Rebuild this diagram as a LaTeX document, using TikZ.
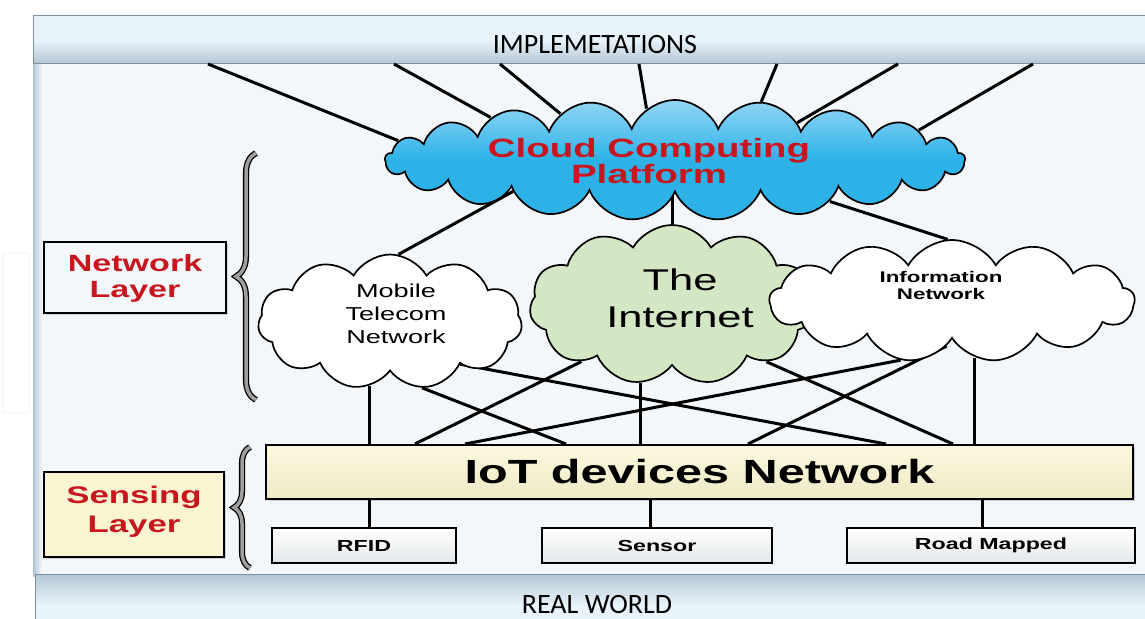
\documentclass[tikz,border=0pt]{standalone}
\usepackage{fontspec}
\setmainfont{Liberation Sans}
\newfontfamily\wf[FakeStretch=1.45]{Liberation Sans}
\newfontfamily\cf{Carlito}
\usetikzlibrary{shapes.symbols,decorations.pathreplacing,shadows}
\definecolor{redtxt}{HTML}{C8161E}
\definecolor{panel}{HTML}{F3F7FA}
\definecolor{barlight}{HTML}{E8F3FA}
\definecolor{bardark}{HTML}{B4C7D5}
\definecolor{edgegray}{HTML}{7D8E9C}
\definecolor{cloudtop}{HTML}{92D6F4}
\definecolor{cloudbot}{HTML}{2DB2E8}
\definecolor{netgreen}{HTML}{D4E7C4}
\definecolor{sensyel}{HTML}{F9F5D2}
\definecolor{iottop}{HTML}{FBF8DE}
\definecolor{iotbot}{HTML}{EEEAC6}
\definecolor{boxtop}{HTML}{FFFFFF}
\definecolor{boxbot}{HTML}{E3E7EA}
\begin{document}
\begin{tikzpicture}[x=1pt,y=-1pt,
  conn/.style={line width=3pt, black},
  cloudbase/.style={cloud, cloud ignores aspect, draw=black, line width=1.7pt, inner sep=0pt},
  ccstyle/.style={cloudbase, cloud puffs=21, cloud puff arc=135, minimum width=580, minimum height=120},
  bartext/.style={font=\cf\fontsize{28}{30}\selectfont, inner sep=0pt, anchor=base},
  layerbox/.style={draw=black, line width=2.2pt, inner sep=0pt},
  layertext/.style={text=redtxt, align=center, inner sep=0pt},
  smallbox/.style={draw=black, line width=2pt, top color=boxtop, bottom color=boxbot, inner sep=0pt,
     font=\wf\bfseries\fontsize{16}{18}\selectfont},
  bracestyle/.style={decorate, decoration={brace, amplitude=20pt}, line width=1.3pt, double=gray!75, double distance=3.5pt}
]
\useasboundingbox (0,0) rectangle (1145,618);
\fill[white] (0,0) rectangle (1145,618);

% faint frame at the left margin
\draw[gray!12, line width=0.8pt, rounded corners=3] (3,253) rectangle (30,413);

% main panel
\fill[panel] (35,63) rectangle (1145,576);
\fill[left color=bardark, right color=panel] (33,63) rectangle (42,576);
\draw[edgegray!60, line width=1pt] (33,63) -- (33,576);

% top and bottom bars
\node[draw=edgegray, line width=1pt, top color=barlight, bottom color=bardark, middle color=barlight,
      minimum width=1116, minimum height=48, anchor=north west, inner sep=0pt] (impl) at (33,15) {};
\node[bartext] (impltext) at (595,53) {IMPLEMETATIONS};
\node[draw=edgegray, line width=1pt, top color=bardark, bottom color=barlight, middle color=barlight,
      minimum width=1114, minimum height=60, anchor=north west, inner sep=0pt] (real) at (35,574) {};
\node[bartext] (realtext) at (597,613) {REAL WORLD};

% cloud positions
\path (675,160) coordinate (ccpos) (390,322) coordinate (mobpos)
      (672,305) coordinate (intpos) (952,301) coordinate (infopos);

% invisible cloud nodes for anchors
\node[ccstyle, draw=none] (cc) at (ccpos) {};
\node[cloudbase, draw=none, cloud puffs=11, cloud puff arc=120, minimum width=264, minimum height=135] (mob) at (mobpos) {};
\node[cloudbase, draw=none, cloud puffs=11, cloud puff arc=120, minimum width=285, minimum height=160] (int) at (intpos) {};
\node[cloudbase, draw=none, cloud puffs=13, cloud puff arc=120, minimum width=365, minimum height=122] (info) at (infopos) {};

% IoT bar and boxes
\node[draw=black, line width=2pt, top color=iottop, bottom color=iotbot, minimum width=867, minimum height=54,
      inner sep=0pt, drop shadow={opacity=0.35, shadow xshift=2pt, shadow yshift=-2pt},
      font=\wf\bfseries\fontsize{33.5}{36}\selectfont] (iot) at (699.5,472) {IoT devices Network};
\node[smallbox, minimum width=184, minimum height=35] (rfid) at (364,545.5) {RFID};
\node[smallbox, minimum width=230, minimum height=35] (sensor) at (657,545.5) {Sensor};
\node[smallbox, minimum width=288, minimum height=35] (road) at (991,545.5) {Road Mapped};

% connectors from implementations bar to cloud platform
\draw[conn] (208,0 |- impl.south) -- (cc.176);
\draw[conn] (394,0 |- impl.south) -- (cc.167.5);
\draw[conn] (500,0 |- impl.south) -- (cc.158);
\draw[conn] (639,0 |- impl.south) -- (cc.119);
\draw[conn] (777,0 |- impl.south) -- (cc.34.5);
\draw[conn] (898,0 |- impl.south) -- (cc.17);
\draw[conn] (1033,0 |- impl.south) -- (cc.7.5);

% cloud platform to networks
\draw[conn] (cc.191) -- (mob.83);
\draw[conn] (int.north) -- (int.north |- cc.south);
\draw[conn] (cc.345) -- (info.94);

% networks to IoT bar
\draw[conn] (mob.252) -- (mob.252 |- iot.north);
\draw[conn] (mob.329) -- (886,0 |- iot.north);
\draw[conn] (mob.296) -- (566,0 |- iot.north);
\draw[conn] (int.248) -- (int.248 |- iot.north);
\draw[conn] (int.212) -- (415,0 |- iot.north);
\draw[conn] (int.329) -- (953,0 |- iot.north);
\draw[conn] (info.292) -- (info.292 |- iot.north);
\draw[conn] (info.229) -- (465,0 |- iot.north);
\draw[conn] (info.263) -- (748,0 |- iot.north);

% IoT bar to devices
\draw[conn] (369,0 |- iot.south) -- (369,0 |- rfid.north);
\draw[conn] (650,0 |- iot.south) -- (650,0 |- sensor.north);
\draw[conn] (982,0 |- iot.south) -- (982,0 |- road.north);

% visible clouds
\node[ccstyle, top color=cloudtop, bottom color=cloudbot, middle color=cloudbot] (ccshape) at (ccpos) {};
\node[cloudbase, cloud puffs=11, cloud puff arc=120, minimum width=264, minimum height=135, fill=white] (mobshape) at (mobpos) {};
\node[cloudbase, cloud puffs=11, cloud puff arc=120, minimum width=285, minimum height=160, fill=netgreen] (intshape) at (intpos) {};
\node[cloudbase, cloud puffs=13, cloud puff arc=120, minimum width=365, minimum height=122, fill=white] (infoshape) at (infopos) {};

% cloud texts
\node[layertext, font=\wf\bfseries\fontsize{26.5}{26}\selectfont] (cctext) at (649,161) {Cloud Computing\\Platform};
\node[align=center, inner sep=0pt, font=\wf\fontsize{18.7}{23}\selectfont] (mobtext) at (396,314) {Mobile\\Telecom\\Network};
\node[align=center, inner sep=0pt, font=\wf\fontsize{30}{37}\selectfont] (inttext) at (680,298) {The\\Internet};
\node[align=center, inner sep=0pt, font=\wf\bfseries\fontsize{15.4}{17}\selectfont] (infotext) at (941,285) {Information\\Network};

% layer labels
\node[layerbox, fill=panel, minimum width=182, minimum height=71,
      drop shadow={opacity=0.3, shadow xshift=2pt, shadow yshift=-2pt}] (netlayer) at (135,277.5) {};
\node[layertext, font=\wf\bfseries\fontsize{23.5}{26}\selectfont] (netlayertext) at (135,278) {Network\\Layer};
\node[layerbox, fill=sensyel, minimum width=180, minimum height=85,
      drop shadow={opacity=0.3, shadow xshift=2pt, shadow yshift=-2pt}] (senslayer) at (134,514.5) {};
\node[layertext, font=\wf\bfseries\fontsize{24}{29}\selectfont] (senslayertext) at (134,512) {Sensing\\Layer};

% braces
\draw[bracestyle] (256,400) -- (256,153);
\draw[bracestyle, decoration={brace, amplitude=16pt}] (250,568) -- (250,447);
\end{tikzpicture}
\end{document}
